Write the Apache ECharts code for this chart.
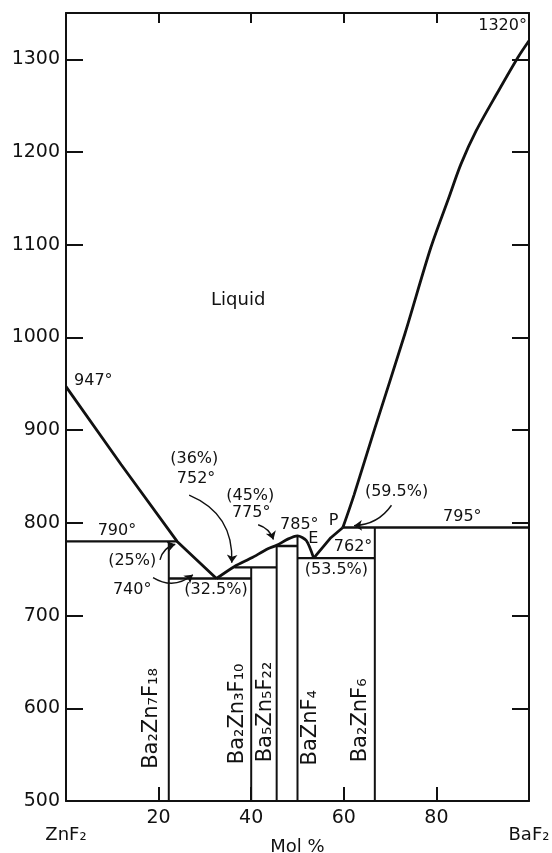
<!DOCTYPE html>
<html>
<head>
<meta charset="utf-8">
<script src="https://cdn.jsdelivr.net/npm/echarts@6/dist/echarts.min.js"></script>
<style>
html,body{margin:0;padding:0;background:#fff;}
#c{width:552px;height:853px;}
</style>
</head>
<body>
<div id="c"></div>
<script>
// ---- data (mol % BaF2, temperature °C) ----
const liquidusZnF2 = [[0,947],[11.9,863],[24,780],[32.5,740]];
const liquidusMid = [[32.5,740],[36.4,753],[40,762],[43.6,772],[45.6,776],[47.9,782.5],[50,786],[51.9,781],[53.5,762]];
const liquidusEP = [[53.5,762],[57.2,784],[59.8,795]];
const liquidusBaF2 = [[59.8,795],[62.2,830],[66.7,902],[73.2,1004],[78.8,1097],[82.7,1151],[85.3,1187],[88.6,1223],[93.3,1265],[97.6,1302],[100,1320]];

const isoTemps = [780, 740, 752, 775, 762, 795];
const isoFrom  = [0, 22.2, 36.4, 45.5, 50, 59.8];
const isoTo    = [24, 40, 45.5, 50, 66.7, 100];

const compounds   = ['Ba₂Zn₇F₁₈','Ba₂Zn₃F₁₀','Ba₅Zn₅F₂₂','BaZnF₄','Ba₂ZnF₆'];
const compoundMol = [22.2, 40, 45.5, 50, 66.7];
const compoundTop = [780, 752, 775, 786, 795];
const compoundLabelMol = [18.4, 37.0, 43.2, 52.8, 63.6];
const compoundLabelT   = [589, 594, 596, 579, 587];

const annoText = ['Liquid','947°','1320°','790°','(25%)','740°','(32.5%)','(36%)','752°','(45%)','775°','785°','E','P','762°','(53.5%)','(59.5%)','795°'];
const annoMol  = [37.2, 5.9, 94.3, 11.0, 14.3, 14.3, 32.4, 27.7, 28.1, 39.8, 40.0, 50.4, 53.4, 57.8, 62.0, 58.4, 71.4, 85.6];
const annoT    = [1040, 953, 1336, 791, 759, 728, 728, 869, 848, 829, 811, 798, 783, 802, 774, 749, 834, 807];

const arrowFrom = [[20.3,760],[18.8,741],[26.6,830],[41.5,798],[70.3,819]];
const arrowTo   = [[23.6,777],[27.4,744],[35.8,757],[44.8,782],[62.2,797]];
const arrowCurve = [0.3, -0.35, 0.35, 0.25, 0.25];

const yMin = 500, yMax = 1350;

// ---- build ----
const ink = '#111';
const series = [];
function lineSeries(data, width, smooth){
  series.push({type:'line', data:data, symbol:'none', smooth:smooth||false, silent:true,
    lineStyle:{color:ink, width:width}, z:3});
}
lineSeries(liquidusZnF2, 2.8, false);
lineSeries(liquidusMid, 2.8, 0.25);
lineSeries(liquidusEP, 2.8, false);
lineSeries(liquidusBaF2, 2.8, 0.3);
isoTemps.forEach((t,i)=>lineSeries([[isoFrom[i],t],[isoTo[i],t]], 2.4, false));
compoundMol.forEach((m,i)=>lineSeries([[m,yMin],[m,compoundTop[i]]], 2.0, false));

series.push({type:'scatter', symbolSize:0, silent:true, z:5, itemStyle:{opacity:1},
  data: compounds.map((n,i)=>({name:n, value:[compoundLabelMol[i], compoundLabelT[i]]})),
  label:{show:true, position:'inside', rotate:90, formatter:'{b}', color:ink, opacity:1,
    fontFamily:'DejaVu Sans', fontSize:21}
});
series.push({type:'scatter', symbolSize:0, silent:true, z:5, itemStyle:{opacity:1},
  data: annoText.map((n,i)=>({name:n, value:[annoMol[i], annoT[i]],
    label: n==='Liquid' ? {fontSize:18} : {}})),
  label:{show:true, position:'inside', formatter:'{b}', color:ink, opacity:1,
    fontFamily:'DejaVu Sans', fontSize:16}
});
series.push({type:'lines', coordinateSystem:'cartesian2d', silent:true, z:4,
  symbol:['none','arrow'], symbolSize:8,
  data: arrowFrom.map((f,i)=>({coords:[f, arrowTo[i]], lineStyle:{curveness:arrowCurve[i]}})),
  lineStyle:{color:ink, width:1.4, opacity:1}
});

function axLine(){ return {show:true, onZero:false, lineStyle:{color:ink, width:2}}; }
function ticks(len){ return {show:true, inside:true, length:len, lineStyle:{color:ink, width:2}}; }
const option = {
  animation:false,
  backgroundColor:'#fff',
  grid:{left:66, right:23, top:13, bottom:52, outerBoundsMode:'none'},
  xAxis:[
    {type:'value', min:0, max:100, interval:20, position:'bottom',
      axisLine:axLine(), splitLine:{show:false}, axisTick:ticks(14),
      axisLabel:{show:true, color:ink, fontFamily:'DejaVu Sans', fontSize:19, margin:8,
        formatter:function(v){ if(v===0) return '{u|ZnF₂}'; if(v===100) return '{u|BaF₂}'; return String(v); },
        rich:{u:{fontSize:18, fontFamily:'DejaVu Sans', color:ink, padding:[17,0,0,0]}}},
      name:'Mol %', nameLocation:'middle', nameGap:37, nameMoveOverlap:false,
      nameTextStyle:{color:ink, fontFamily:'DejaVu Sans', fontSize:18}
    },
    {type:'value', min:0, max:100, interval:20, position:'top',
      axisLine:axLine(), splitLine:{show:false}, axisTick:ticks(10),
      axisLabel:{show:false}
    }
  ],
  yAxis:[
    {type:'value', min:yMin, max:yMax, interval:100, position:'left',
      axisLine:axLine(), splitLine:{show:false}, axisTick:ticks(17),
      axisLabel:{color:ink, fontFamily:'DejaVu Sans', fontSize:19, margin:6, showMaxLabel:false,
        formatter:function(v){ return v===yMax ? '' : String(v); }}
    },
    {type:'value', min:yMin, max:yMax, interval:100, position:'right',
      axisLine:axLine(), splitLine:{show:false}, axisTick:ticks(17),
      axisLabel:{show:false}
    }
  ],
  series:series
};
const chart = echarts.init(document.getElementById('c'));
chart.setOption(option);
</script>
</body>
</html>
